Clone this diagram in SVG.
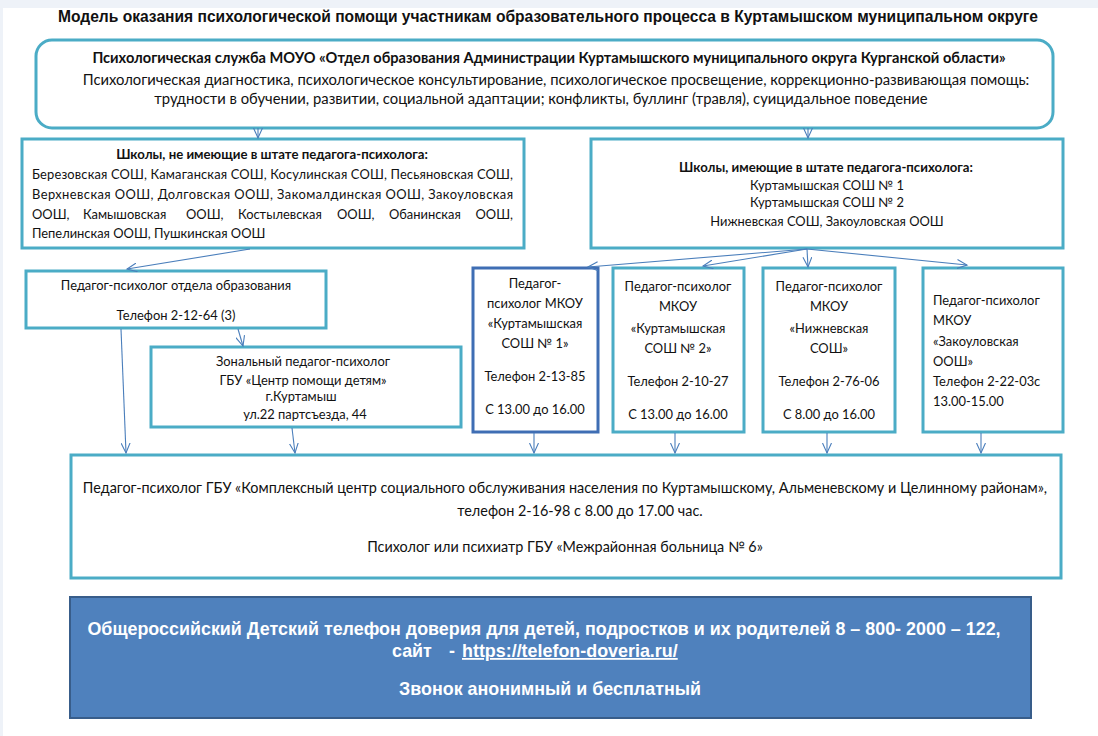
<svg xmlns="http://www.w3.org/2000/svg" width="1098" height="736" viewBox="0 0 1098 736">
<defs>
<marker id="arr" markerWidth="12" markerHeight="10" refX="10" refY="5" orient="auto" markerUnits="userSpaceOnUse">
<path d="M0,0.5 L10,5 L0,9.5" fill="none" stroke="#4a7ebb" stroke-width="1.1"/>
</marker>
<style>
.bx{fill:#fff;stroke:#4bacc6;stroke-width:3}
.bx2{fill:#fff;stroke:#3f6eb4;stroke-width:3}
.t{font-family:Lato,"Noto Sans",sans-serif;font-size:12.9px;fill:#111}
.tt{font-size:14.8px}
.tb{font-size:14.6px}
.tm{font-size:14.4px}
.sb{font-size:13.2px}
.c{text-anchor:middle}
.e{text-anchor:end}
.b{font-weight:bold}
.ttl{font-family:"Liberation Sans",Arial,sans-serif;font-size:15.6px;font-weight:bold;fill:#111;text-anchor:middle}
.w{font-family:"Liberation Sans",Arial,sans-serif;font-size:17.9px;font-weight:bold;fill:#fff;text-anchor:middle}
.ws{text-anchor:start}
.cn line{stroke:#4a7ebb;stroke-width:1.1;marker-end:url(#arr)}
</style>
</defs>
<rect width="1098" height="736" fill="#fff"/>
<rect width="1098" height="8" fill="#eef2f8"/>
<rect width="3" height="736" fill="#eef2f8"/>
<text class="ttl" x="548" y="22">Модель оказания психологической помощи участникам образовательного процесса в Куртамышском муниципальном округе</text>

<g id="top">
<rect class="bx" x="36" y="40" width="1017" height="88" rx="16"/>
<text class="t tb c b" x="549" y="63">Психологическая служба МОУО «Отдел образования Администрации Куртамышского муниципального округа Курганской области»</text>
<text class="t tt c" x="556" y="85">Психологическая диагностика, психологическое консультирование, психологическое просвещение, коррекционно-развивающая помощь:</text>
<text class="t tt c" x="541" y="104">трудности в обучении, развитии, социальной адаптации; конфликты, буллинг (травля), суицидальное поведение</text>
</g>

<g id="schools-no">
<rect class="bx" x="22" y="139" width="502" height="109"/>
<text class="t sb c b" x="272" y="159">Школы, не имеющие в штате педагога-психолога:</text>
<text class="t" x="32" y="179" textLength="481" lengthAdjust="spacing">Березовская СОШ,  Камаганская СОШ, Косулинская СОШ, Песьяновская СОШ,</text>
<text class="t" x="32" y="199" textLength="481" lengthAdjust="spacing">Верхневская ООШ, Долговская ООШ, Закомалдинская ООШ, Закоуловская</text>
<text class="t" y="219"><tspan x="32">ООШ,</tspan><tspan x="83">Камышовская</tspan><tspan x="186">ООШ,</tspan><tspan x="238">Костылевская</tspan><tspan x="337">ООШ,</tspan><tspan x="389">Обанинская</tspan></text>
<text class="t e" x="513" y="219">ООШ,</text>
<text class="t" x="32" y="238">Пепелинская ООШ, Пушкинская ООШ</text>
</g>

<g id="schools-yes">
<rect class="bx" x="591" y="139" width="472" height="109"/>
<text class="t sb c b" x="826" y="172">Школы, имеющие в штате педагога-психолога:</text>
<text class="t c" x="827" y="190">Куртамышская СОШ № 1</text>
<text class="t c" x="827" y="207">Куртамышская СОШ № 2</text>
<text class="t c" x="827" y="226">Нижневская СОШ, Закоуловская ООШ</text>
</g>

<g id="ped-otd">
<rect class="bx" x="26" y="271" width="300" height="57"/>
<text class="t c" x="176" y="290">Педагог-психолог отдела образования</text>
<text class="t c" x="176" y="320">Телефон 2-12-64 (3)</text>
</g>

<g id="zonal">
<rect class="bx" x="151" y="347" width="310" height="80"/>
<text class="t c" x="303" y="366">Зональный педагог-психолог</text>
<text class="t c" x="303" y="385">ГБУ «Центр помощи детям»</text>
<text class="t c" x="301" y="401">г.Куртамыш</text>
<text class="t c" x="305" y="419">ул.22 партсъезда, 44</text>
</g>

<g id="sosh1">
<rect class="bx2" x="473" y="268" width="125" height="164"/>
<text class="t c" x="535" y="288">Педагог-</text>
<text class="t c" x="535" y="308">психолог МКОУ</text>
<text class="t c" x="535" y="328">«Куртамышская</text>
<text class="t c" x="535" y="348">СОШ № 1»</text>
<text class="t c" x="535" y="381">Телефон 2-13-85</text>
<text class="t c" x="535" y="414">С 13.00 до 16.00</text>
</g>

<g id="sosh2">
<rect class="bx" x="613" y="268" width="131" height="164"/>
<text class="t c" x="678" y="291">Педагог-психолог</text>
<text class="t c" x="678" y="311">МКОУ</text>
<text class="t c" x="678" y="333">«Куртамышская</text>
<text class="t c" x="678" y="353">СОШ № 2»</text>
<text class="t c" x="678" y="386">Телефон 2-10-27</text>
<text class="t c" x="678" y="419">С 13.00 до 16.00</text>
</g>

<g id="nizh">
<rect class="bx" x="763" y="268" width="132" height="164"/>
<text class="t c" x="829" y="291">Педагог-психолог</text>
<text class="t c" x="829" y="311">МКОУ</text>
<text class="t c" x="829" y="333">«Нижневская</text>
<text class="t c" x="829" y="353">СОШ»</text>
<text class="t c" x="829" y="386">Телефон 2-76-06</text>
<text class="t c" x="829" y="419">С 8.00 до 16.00</text>
</g>

<g id="zakoul">
<rect class="bx" x="923" y="268" width="140" height="164"/>
<text class="t" x="933" y="305">Педагог-психолог</text>
<text class="t" x="933" y="325">МКОУ</text>
<text class="t" x="933" y="346">«Закоуловская</text>
<text class="t" x="933" y="366">ООШ»</text>
<text class="t" x="933" y="386">Телефон 2-22-03с</text>
<text class="t" x="933" y="406">13.00-15.00</text>
</g>

<g id="center">
<rect class="bx" x="71" y="455" width="990" height="123"/>
<text class="t tm c" x="565" y="493">Педагог-психолог ГБУ «Комплексный центр социального обслуживания населения по Куртамышскому, Альменевскому и Целинному районам»,</text>
<text class="t tm c" x="580" y="516">телефон 2-16-98 с 8.00 до 17.00 час.</text>
<text class="t tm c" x="565" y="552">Психолог или психиатр ГБУ «Межрайонная больница № 6»</text>
</g>

<g id="hotline">
<rect x="70" y="597" width="961" height="121" fill="#4f81bd" stroke="#385d8a" stroke-width="2"/>
<text class="w" x="544" y="635">Общероссийский Детский телефон доверия для детей, подростков и их родителей 8 – 800- 2000 – 122,</text>
<text class="w ws" y="657"><tspan x="392">сайт</tspan><tspan x="449">-</tspan><tspan x="462" text-decoration="underline">https://telefon-doveria.ru/</tspan></text>
<text class="w" x="550" y="695">Звонок анонимный и бесплатный</text>
</g>

<g id="connectors" class="cn">
<line x1="258" y1="128" x2="258" y2="138"/>
<line x1="808" y1="128" x2="808" y2="138"/>
<line x1="250" y1="249" x2="127" y2="269"/>
<line x1="807" y1="249" x2="588" y2="267"/>
<line x1="807" y1="249" x2="703" y2="266"/>
<line x1="807" y1="249" x2="808" y2="267"/>
<line x1="807" y1="249" x2="967" y2="265"/>
<line x1="121" y1="329" x2="126" y2="453"/>
<line x1="238" y1="329" x2="243" y2="346"/>
<line x1="292" y1="428" x2="295" y2="453"/>
<line x1="534" y1="433" x2="534" y2="453"/>
<line x1="675" y1="433" x2="675" y2="453"/>
<line x1="827" y1="433" x2="827" y2="453"/>
<line x1="981" y1="433" x2="981" y2="453"/>
</g>
</svg>
